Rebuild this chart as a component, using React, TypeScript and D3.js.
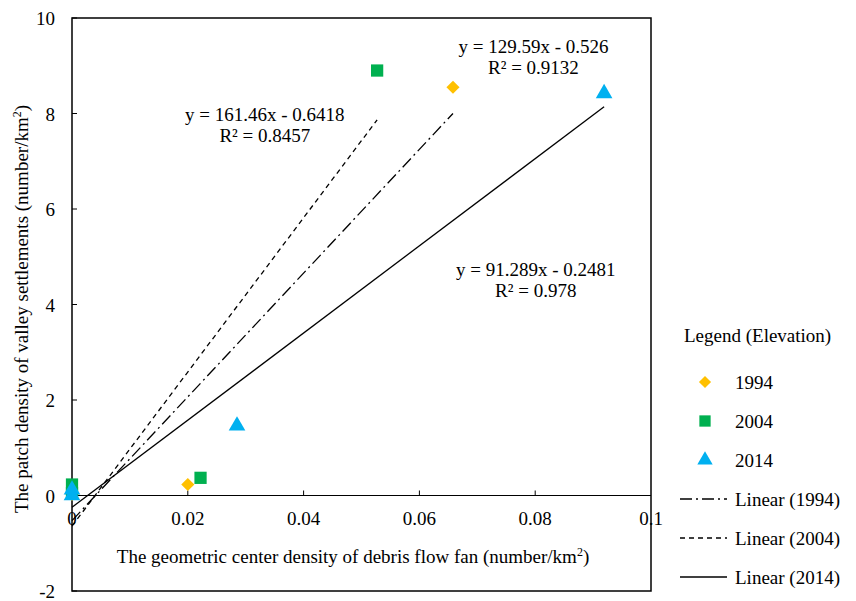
import React, { useEffect, useRef } from 'react';
import * as d3 from 'd3';

// years and their marker colours
const years = ['1994', '2004', '2014'];
const colors = ['#FFC000', '#00B050', '#00B0F0'];
const symbols = [d3.symbolDiamond2, d3.symbolSquare, d3.symbolTriangle];

// points: [x, y]
const points1994 = [[0, 0.02], [0.02, 0.23], [0.0658, 8.55]];
const points2004 = [[0, 0.05], [0, 0.23], [0.0222, 0.37], [0.0527, 8.9]];
const points2014 = [[0, 0.0], [0, 0.12], [0.0285, 1.46], [0.0919, 8.42]];

// fitted trend lines: slope, intercept, x range
const slopes = [129.59, 161.46, 91.289];
const intercepts = [-0.526, -0.6418, -0.2481];
const fitRanges = [[0, 0.0658], [0, 0.0527], [0, 0.0919]];
const dashes = ['12,4,2,4', '5,4', null];

const eqLabels = [
  { x: 0.0797, y: 9.27, eq: 'y = 129.59x - 0.526', r2: 'R² = 0.9132' },
  { x: 0.0333, y: 7.84, eq: 'y = 161.46x - 0.6418', r2: 'R² = 0.8457' },
  { x: 0.0801, y: 4.6, eq: 'y = 91.289x - 0.2481', r2: 'R² = 0.978' },
];

const xTicks = [0, 0.02, 0.04, 0.06, 0.08, 0.1];
const yTicks = [-2, 0, 2, 4, 6, 8, 10];

const App = () => {
  const ref = useRef<SVGSVGElement>(null);

  useEffect(() => {
    const svg = d3.select(ref.current);
    svg.selectAll('*').remove();

    const font = '"Liberation Serif", "Times New Roman", serif';
    const fs = 19;
    const left = 72, right = 651, top = 18, bottom = 591;

    const x = d3.scaleLinear().domain([0, 0.1]).range([left, right]);
    const y = d3.scaleLinear().domain([-2, 10]).range([bottom, top]);

    // frame
    svg.append('rect')
      .attr('x', left).attr('y', top)
      .attr('width', right - left).attr('height', bottom - top)
      .attr('fill', 'none').attr('stroke', '#000').attr('stroke-width', 1.5);

    // x axis on zero line
    svg.append('line')
      .attr('x1', left).attr('x2', right)
      .attr('y1', y(0)).attr('y2', y(0))
      .attr('stroke', '#000').attr('stroke-width', 1.2);

    xTicks.forEach(t => {
      if (t > 0 && t < 0.1) {
        svg.append('line')
          .attr('x1', x(t)).attr('x2', x(t))
          .attr('y1', y(0)).attr('y2', y(0) - 5)
          .attr('stroke', '#000');
      }
      svg.append('text')
        .attr('x', x(t)).attr('y', y(0) + 29)
        .attr('text-anchor', 'middle')
        .attr('font-family', font).attr('font-size', fs)
        .text(String(t));
    });

    yTicks.forEach(t => {
      svg.append('line')
        .attr('x1', left).attr('x2', left + 5)
        .attr('y1', y(t)).attr('y2', y(t))
        .attr('stroke', '#000');
      svg.append('text')
        .attr('x', 55).attr('y', y(t) + 7)
        .attr('text-anchor', 'end')
        .attr('font-family', font).attr('font-size', fs)
        .text(String(t));
    });

    // trend lines
    slopes.forEach((m, i) => {
      const [a, b] = fitRanges[i];
      svg.append('line')
        .attr('x1', x(a)).attr('y1', y(m * a + intercepts[i]))
        .attr('x2', x(b)).attr('y2', y(m * b + intercepts[i]))
        .attr('stroke', '#000').attr('stroke-width', 1.3)
        .attr('stroke-dasharray', dashes[i]);
    });

    // points
    const series = [points1994, points2004, points2014];
    const sizes = [110, 150, 120];
    series.forEach((pts, i) => {
      svg.selectAll(null)
        .data(pts)
        .join('path')
        .attr('transform', d => `translate(${x(d[0])},${y(d[1])})`)
        .attr('d', d3.symbol().type(symbols[i]).size(sizes[i])())
        .attr('fill', colors[i]);
    });

    // equation labels
    eqLabels.forEach(l => {
      const g = svg.append('text')
        .attr('text-anchor', 'middle')
        .attr('font-family', font).attr('font-size', fs);
      g.append('tspan').attr('x', x(l.x)).attr('y', y(l.y)).text(l.eq);
      g.append('tspan').attr('x', x(l.x)).attr('y', y(l.y) + 21).text(l.r2);
    });

    // axis titles
    const xt = svg.append('text')
      .attr('x', 353).attr('y', 563)
      .attr('text-anchor', 'middle')
      .attr('font-family', font).attr('font-size', fs);
    xt.append('tspan').text('The geometric center density of debris flow fan (number/km');
    xt.append('tspan').attr('dy', -7).attr('font-size', 12).text('2');
    xt.append('tspan').attr('dy', 7).text(')');

    const yt = svg.append('text')
      .attr('transform', `translate(28, 309) rotate(-90)`)
      .attr('text-anchor', 'middle')
      .attr('font-family', font).attr('font-size', fs);
    yt.append('tspan').text('The patch density of valley settlements  (number/km');
    yt.append('tspan').attr('dy', -7).attr('font-size', 12).text('2');
    yt.append('tspan').attr('dy', 7).text(')');

    // legend
    svg.append('text')
      .attr('x', 684).attr('y', 342)
      .attr('font-family', font).attr('font-size', fs)
      .text('Legend (Elevation)');

    years.forEach((yr, i) => {
      const cy = 382 + i * 39;
      svg.append('path')
        .attr('transform', `translate(705,${cy})`)
        .attr('d', d3.symbol().type(symbols[i]).size(sizes[i] * 0.85)())
        .attr('fill', colors[i]);
      svg.append('text')
        .attr('x', 735).attr('y', cy + 7)
        .attr('font-family', font).attr('font-size', fs)
        .text(yr);
    });

    years.forEach((yr, i) => {
      const cy = 499 + i * 39;
      svg.append('line')
        .attr('x1', 680).attr('x2', 727)
        .attr('y1', cy).attr('y2', cy)
        .attr('stroke', '#000').attr('stroke-width', 1.3)
        .attr('stroke-dasharray', dashes[i]);
      svg.append('text')
        .attr('x', 735).attr('y', cy + 7)
        .attr('font-family', font).attr('font-size', fs)
        .text(`Linear (${yr})`);
    });
  }, []);

  return (
    <svg ref={ref} width={856} height={601}
      style={{ position: 'absolute', left: 0, top: 0, background: '#fff' }} />
  );
};

export default App;
